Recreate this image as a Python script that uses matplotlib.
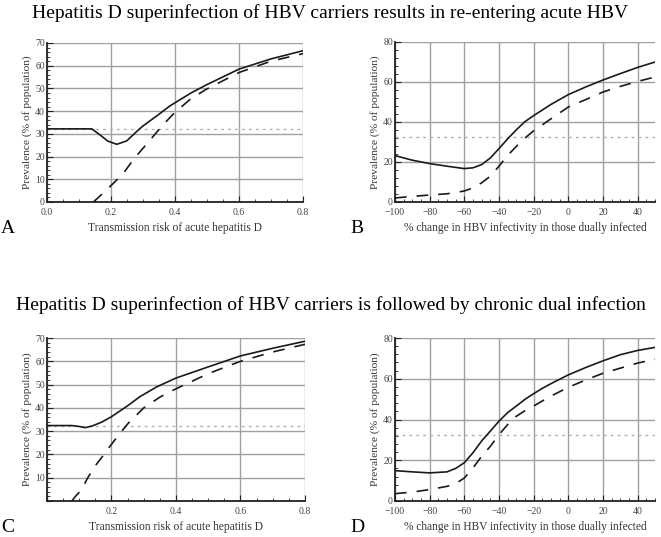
import numpy as np
import matplotlib
matplotlib.use("Agg")
import matplotlib.pyplot as plt
from matplotlib.ticker import AutoMinorLocator

plt.rcParams['font.family'] = ['Liberation Serif', 'DejaVu Serif']

baseline = 32.3

# panel A: transmission risk of acute hepatitis D (re-entering acute HBV)
a_x_solid = [0.0, 0.10, 0.14, 0.166, 0.19, 0.218, 0.249, 0.28, 0.30, 0.343, 0.384, 0.45, 0.50, 0.60, 0.70, 0.80]
a_solid = [32.2, 32.2, 32.2, 29.5, 26.8, 25.4, 26.9, 31.0, 33.5, 37.9, 42.3, 48.0, 51.7, 58.5, 63.0, 66.6]
a_x_dash = [0.145, 0.186, 0.218, 0.242, 0.265, 0.291, 0.32, 0.36, 0.40, 0.45, 0.50, 0.60, 0.70, 0.80]
a_dash = [0.0, 5.3, 9.7, 13.3, 17.7, 22.2, 26.9, 33.6, 39.5, 45.5, 49.8, 57.0, 62.0, 65.3]

# panel B: % change in HBV infectivity (re-entering acute HBV)
b_x = [-100, -90, -80, -70, -60, -55, -50, -45, -40, -35, -30, -25, -20, -15, -10, 0, 10, 20, 30, 40, 50]
b_solid = [23.2, 20.9, 19.2, 17.9, 16.7, 17.1, 18.7, 22.0, 26.7, 31.6, 36.1, 40.2, 43.2, 46.0, 48.8, 53.7, 57.5, 61.0, 64.2, 67.3, 70.0]
b_dash = [2.0, 2.8, 3.5, 4.1, 5.5, 7.1, 9.6, 12.9, 17.9, 23.3, 27.8, 32.0, 35.6, 38.6, 41.6, 47.5, 51.2, 55.0, 57.8, 60.3, 62.5]

# panel C: transmission risk (chronic dual infection)
c_x_solid = [0.0, 0.077, 0.10, 0.118, 0.14, 0.17, 0.20, 0.25, 0.288, 0.34, 0.40, 0.50, 0.60, 0.70, 0.80]
c_solid = [32.4, 32.4, 32.0, 31.5, 32.2, 33.9, 36.2, 40.9, 44.8, 49.0, 52.8, 57.6, 62.3, 65.6, 68.6]
c_x_dash = [0.077, 0.087, 0.108, 0.126, 0.149, 0.173, 0.198, 0.224, 0.252, 0.30, 0.35, 0.40, 0.50, 0.60, 0.70, 0.80]
c_dash = [0.0, 1.8, 5.0, 9.9, 15.0, 19.3, 24.0, 28.7, 33.4, 40.0, 44.6, 48.2, 54.7, 60.0, 64.0, 67.3]

# panel D: % change in HBV infectivity (chronic dual infection)
d_x = [-100, -90, -80, -70, -65, -60, -55, -50, -45, -40, -35, -30, -25, -20, -15, -10, 0, 10, 20, 30, 40, 50]
d_solid = [14.9, 14.3, 13.8, 14.3, 16.0, 18.8, 23.7, 29.5, 34.3, 39.2, 43.4, 46.6, 49.9, 52.7, 55.3, 57.6, 61.9, 65.5, 68.8, 71.8, 73.9, 75.4]
d_dash = [3.6, 4.4, 5.6, 7.2, 8.5, 11.3, 16.2, 22.0, 26.8, 32.6, 37.5, 41.6, 44.3, 46.6, 49.1, 51.5, 55.8, 59.4, 62.7, 65.2, 67.7, 69.6]

W, H = 661, 537
fig = plt.figure(figsize=(W / 100, H / 100), dpi=100)


def box(l, t, r, b):
    return [l / W, 1 - b / H, (r - l) / W, (b - t) / H]


def style_axes(ax, xlim, ylim, xticks, yticks, xlabels, ylabels):
    ax.set_xlim(*xlim)
    ax.set_ylim(*ylim)
    ax.set_xticks(xticks)
    ax.set_xticklabels(xlabels)
    ax.set_yticks(yticks)
    ax.set_yticklabels(ylabels)
    ax.xaxis.set_minor_locator(AutoMinorLocator(4))
    ax.yaxis.set_minor_locator(AutoMinorLocator(5))
    ax.grid(True, which='major', color='#a0a0a0', lw=1.0)
    ax.set_axisbelow(True)
    for s in ['top', 'right']:
        ax.spines[s].set_visible(False)
    for s in ['left', 'bottom']:
        ax.spines[s].set_linewidth(1.3)
        ax.spines[s].set_color('#222222')
    ax.tick_params(which='major', direction='in', length=4, width=0.8, labelsize=7, colors='#222222', labelcolor='#444444')
    ax.tick_params(axis='y', which='major', pad=1.5)
    ax.tick_params(axis='x', which='major', pad=4)
    ax.tick_params(which='minor', direction='in', length=2, width=0.6, colors='#222222')
    ax.axhline(baseline, color='#b0b0b0', lw=1.0, ls=(0, (2, 3)), zorder=1.5)
    ax.set_ylabel('Prevalence (% of population)', fontsize=8.2, color='#333333', labelpad=2)


def draw(ax, xs, ys, xd, yd):
    ax.plot(xs, ys, color='#1a1a1a', lw=1.2, zorder=3)
    ax.plot(xd, yd, color='#1a1a1a', lw=1.2, ls=(0, (7, 6)), zorder=3)


risk_ticks = [0.0, 0.2, 0.4, 0.6, 0.8]
change_ticks = [-100, -80, -60, -40, -20, 0, 20, 40]
change_labels = ['\u2212100', '\u221280', '\u221260', '\u221240', '\u221220', '0', '20', '40']
xlab_kw = dict(fontsize=8.3, color='#333333', labelpad=4)

axA = fig.add_axes(box(47, 43, 303, 202))
draw(axA, a_x_solid, a_solid, a_x_dash, a_dash)
style_axes(axA, (0, 0.8), (0, 70), risk_ticks, range(0, 71, 10),
           ['0.0', '0.2', '0.4', '0.6', '0.8'], [str(v) for v in range(0, 71, 10)])
axA.set_xlabel('Transmission risk of acute hepatitis D', **xlab_kw)

axB = fig.add_axes(box(395, 42, 655, 202))
draw(axB, b_x, b_solid, b_x, b_dash)
style_axes(axB, (-100, 50), (0, 80), change_ticks, range(0, 81, 20),
           change_labels, [str(v) for v in range(0, 81, 20)])
axB.set_xlabel('% change in HBV infectivity in those dually infected', **xlab_kw)

axC = fig.add_axes(box(47, 338, 305, 501))
draw(axC, c_x_solid, c_solid, c_x_dash, c_dash)
style_axes(axC, (0, 0.8), (0, 70), risk_ticks, range(0, 71, 10),
           ['', '0.2', '0.4', '0.6', '0.8'], [''] + [str(v) for v in range(10, 71, 10)])
axC.set_xlabel('Transmission risk of acute hepatitis D', **xlab_kw)

axD = fig.add_axes(box(395, 338, 655, 501))
draw(axD, d_x, d_solid, d_x, d_dash)
style_axes(axD, (-100, 50), (0, 80), change_ticks, range(0, 81, 20),
           change_labels, [str(v) for v in range(0, 81, 20)])
axD.set_xlabel('% change in HBV infectivity in those dually infected', **xlab_kw)

fig.text(0.5, 1 - 13 / H, 'Hepatitis D superinfection of HBV carriers results in re-entering acute HBV',
         ha='center', va='center', fontsize=14)
fig.text(0.5, 1 - 305 / H, 'Hepatitis D superinfection of HBV carriers is followed by chronic dual infection',
         ha='center', va='center', fontsize=14)

for lbl, x, y in [('A', 8, 229), ('B', 357, 229), ('C', 8, 528), ('D', 357, 528)]:
    fig.text(x / W, 1 - y / H, lbl, ha='center', va='center', fontsize=14)

fig.savefig('out.png', dpi=100)
